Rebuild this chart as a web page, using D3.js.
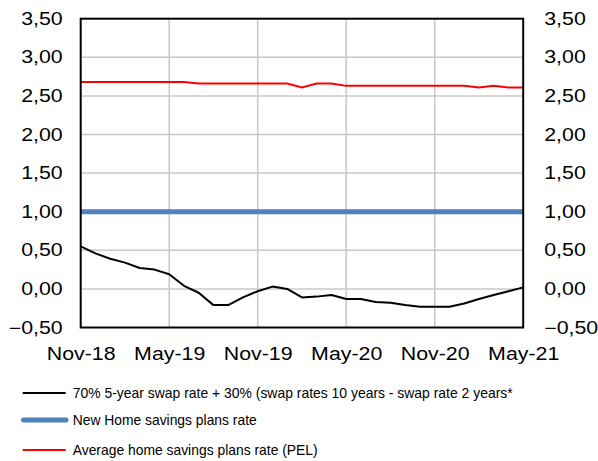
<!DOCTYPE html>
<html>
<head>
<meta charset="utf-8">
<script src="https://cdn.jsdelivr.net/npm/d3@7"></script>
<style>
  html, body { margin: 0; padding: 0; background: #fff; }
  svg { display: block; font-family: "Liberation Sans", Arial, sans-serif; }
</style>
</head>
<body>
<svg id="chart" width="598" height="461"></svg>
<script>
const months = ["Nov-18","Dec-18","Jan-19","Feb-19","Mar-19","Apr-19","May-19","Jun-19","Jul-19","Aug-19","Sep-19","Oct-19",
  "Nov-19","Dec-19","Jan-20","Feb-20","Mar-20","Apr-20","May-20","Jun-20","Jul-20","Aug-20","Sep-20","Oct-20",
  "Nov-20","Dec-20","Jan-21","Feb-21","Mar-21","Apr-21","May-21"];
const swapRate = [0.55,0.46,0.39,0.34,0.27,0.25,0.19,0.04,-0.05,-0.21,-0.21,-0.11,
  -0.03,0.03,0.00,-0.11,-0.10,-0.08,-0.13,-0.13,-0.17,-0.18,-0.21,-0.23,
  -0.23,-0.23,-0.19,-0.13,-0.08,-0.03,0.02];
const newPelRate = months.map(() => 1.00);
const avgPelRate = [2.68,2.68,2.68,2.68,2.68,2.68,2.68,2.68,2.66,2.66,2.66,2.66,
  2.66,2.66,2.66,2.61,2.66,2.66,2.63,2.63,2.63,2.63,2.63,2.63,
  2.63,2.63,2.63,2.61,2.63,2.61,2.61];
const xTickLabels = ["Nov-18","May-19","Nov-19","May-20","Nov-20","May-21"];
const yTicks = [-0.5,0,0.5,1,1.5,2,2.5,3,3.5];
const legendLabels = [
  "70% 5-year swap rate + 30% (swap rates 10 years - swap rate 2 years*",
  "New Home savings plans rate",
  "Average home savings plans rate (PEL)"
];

const svg = d3.select("#chart");
const pL = 80.7, pR = 523.2, pT = 18.7, pB = 327.5;
const x = d3.scalePoint().domain(months).range([pL, pR]);
const y = d3.scaleLinear().domain([-0.5, 3.5]).range([pB, pT]);
const fmt = v => d3.format(".2f")(v).replace(".", ",");

// gridlines
const g = svg.append("g");
g.selectAll("line.h").data(yTicks.slice(1, -1)).join("line")
  .attr("x1", pL).attr("x2", pR)
  .attr("y1", d => y(d)).attr("y2", d => y(d))
  .attr("stroke", "#c8c8c8").attr("stroke-width", 1.5);
g.selectAll("line.v").data(xTickLabels.slice(1, -1)).join("line")
  .attr("x1", d => x(d)).attr("x2", d => x(d))
  .attr("y1", pT).attr("y2", pB)
  .attr("stroke", "#c8c8c8").attr("stroke-width", 1.5);

// series
const line = vals => d3.line().x((d, i) => x(months[i])).y(d => y(d))(vals);
svg.append("path").attr("d", line(newPelRate)).attr("fill", "none")
  .attr("stroke", "#4f81bd").attr("stroke-width", 5);
svg.append("path").attr("d", line(avgPelRate)).attr("fill", "none")
  .attr("stroke", "#ff0000").attr("stroke-width", 2);
svg.append("path").attr("d", line(swapRate)).attr("fill", "none")
  .attr("stroke", "#000").attr("stroke-width", 2).attr("stroke-linejoin", "round");

// frame
svg.append("rect").attr("x", pL).attr("y", pT)
  .attr("width", pR - pL).attr("height", pB - pT)
  .attr("fill", "none").attr("stroke", "#000").attr("stroke-width", 2);

// axes
const axisL = d3.axisLeft(y).tickValues(yTicks).tickFormat(fmt).tickSize(0).tickPadding(18);
const axisR = d3.axisRight(y).tickValues(yTicks).tickFormat(fmt).tickSize(0).tickPadding(21);
const axisB = d3.axisBottom(x).tickValues(xTickLabels).tickSize(0).tickPadding(20);
[[axisL, `translate(${pL},0)`], [axisR, `translate(${pR},0)`], [axisB, `translate(0,${pB})`]]
  .forEach(([ax, tr]) => {
    const a = svg.append("g").attr("transform", tr).call(ax);
    a.select(".domain").remove();
    a.selectAll("text").attr("font-size", 17.5).attr("fill", "#000")
      .attr("font-family", "'Liberation Sans', Arial, sans-serif")
      .each(function() {
        const w = this.getComputedTextLength();
        d3.select(this).attr("textLength", w * 1.22).attr("lengthAdjust", "spacingAndGlyphs");
      });
  });

// legend
const legY = [393, 420, 450];
const legColors = ["#000", "#4f81bd", "#ff0000"];
const legWidths = [2, 5, 2];
const legTextLen = [440, 184, 245];
const leg = svg.append("g");
legendLabels.forEach((lab, i) => {
  leg.append("line").attr("x1", i === 1 ? 23.5 : 22.7).attr("x2", i === 1 ? 66 : 65.7)
    .attr("y1", legY[i]).attr("y2", legY[i])
    .attr("stroke", legColors[i]).attr("stroke-width", legWidths[i])
    .attr("stroke-linecap", i === 1 ? "round" : "butt");
  leg.append("text").attr("x", 72.7).attr("y", legY[i]).attr("dy", "0.35em")
    .attr("font-size", 14.5).attr("fill", "#000")
    .attr("textLength", legTextLen[i]).attr("lengthAdjust", "spacingAndGlyphs")
    .text(lab);
});
</script>
</body>
</html>
